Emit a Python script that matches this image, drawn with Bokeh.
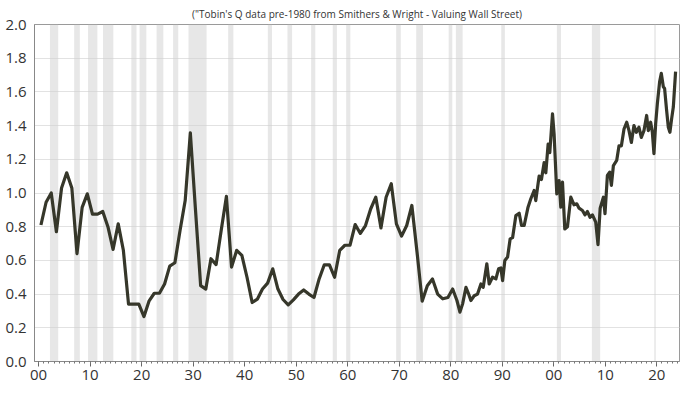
from bokeh.plotting import figure
from bokeh.models import FixedTicker, Range1d
from bokeh.embed import file_html
from bokeh.resources import INLINE

# ---- data ----
subtitle = "(\"Tobin's Q data pre-1980 from Smithers & Wright - Valuing Wall Street)"

annual_years = list(range(1900, 1980))
annual_q = [0.81, 0.945, 1.00, 0.77, 1.03, 1.12, 1.03, 0.64, 0.915, 0.995,
            0.875, 0.875, 0.89, 0.80, 0.665, 0.817, 0.66, 0.34, 0.34, 0.34,
            0.267, 0.36, 0.405, 0.405, 0.46, 0.566, 0.586, 0.777, 0.955, 1.357,
            0.90, 0.45, 0.43, 0.61, 0.575, 0.78, 0.98, 0.56, 0.66, 0.63,
            0.50, 0.35, 0.37, 0.43, 0.465, 0.55, 0.43, 0.368, 0.336, 0.366,
            0.40, 0.425, 0.40, 0.38, 0.49, 0.574, 0.574, 0.50, 0.66, 0.69,
            0.69, 0.813, 0.76, 0.807, 0.905, 0.975, 0.793, 0.975, 1.055, 0.817,
            0.744, 0.807, 0.926, 0.65, 0.358, 0.45, 0.49, 0.40, 0.372, 0.38]

quarter_years = [1980.37, 1981.2, 1981.78, 1982.3, 1982.95, 1983.47, 1983.9, 1984.55,
                 1985.2, 1985.85, 1986.3, 1987.0, 1987.46, 1988.1, 1988.76, 1989.28,
                 1989.73, 1990.06, 1990.5, 1991.03, 1991.53, 1992.0, 1992.64, 1993.28,
                 1993.74, 1994.25, 1995.0, 1995.54, 1996.18, 1996.5, 1997.15, 1997.6,
                 1998.12, 1998.45, 1998.9, 1999.22, 1999.75, 2000.06, 2000.58, 2001.03,
                 2001.36, 2001.69, 2002.13, 2002.65, 2003.3, 2003.93, 2004.46, 2004.9,
                 2005.56, 2006.06, 2006.53, 2007.03, 2007.5, 2008.14, 2008.58, 2009.0,
                 2009.63, 2009.94, 2010.4, 2010.85, 2011.18, 2011.57, 2012.21, 2012.66,
                 2013.12, 2013.63, 2014.15, 2014.6, 2015.06, 2015.56, 2016.03, 2016.53,
                 2016.99, 2017.5, 2018.02, 2018.35, 2018.8, 2019.13, 2019.44, 2019.77,
                 2020.1, 2020.54, 2020.87, 2021.26, 2021.51, 2021.9, 2022.23, 2022.54,
                 2022.87, 2023.2, 2023.64]
quarter_q = [0.43, 0.362, 0.293, 0.342, 0.44, 0.40, 0.362, 0.39,
             0.40, 0.46, 0.44, 0.58, 0.46, 0.50, 0.49, 0.55,
             0.555, 0.48, 0.60, 0.62, 0.728, 0.735, 0.866, 0.88,
             0.807, 0.807, 0.916, 0.966, 1.015, 0.955, 1.10, 1.08,
             1.18, 1.12, 1.29, 1.24, 1.47, 1.35, 0.995, 1.074,
             0.916, 1.064, 0.787, 0.80, 0.975, 0.93, 0.936, 0.91,
             0.896, 0.87, 0.89, 0.856, 0.87, 0.827, 0.694, 0.91,
             0.975, 0.877, 1.104, 1.124, 1.045, 1.163, 1.193, 1.28,
             1.28, 1.38, 1.42, 1.37, 1.30, 1.40, 1.36, 1.39,
             1.33, 1.37, 1.46, 1.37, 1.42, 1.36, 1.233, 1.41,
             1.53, 1.66, 1.71, 1.63, 1.62, 1.49, 1.39, 1.36,
             1.44, 1.51, 1.72]

recession_start = [1902.2, 1906.9, 1909.6, 1912.5, 1918.0, 1919.6, 1922.9, 1926.1,
                   1929.1, 1936.8, 1944.5, 1948.3, 1952.9, 1957.1, 1959.7, 1969.4,
                   1973.3, 1979.6, 1981.0, 1989.8, 2000.6, 2007.4, 2019.5]
recession_end = [1903.8, 1908.0, 1911.4, 1914.5, 1919.0, 1920.9, 1924.2, 1927.1,
                 1932.6, 1937.8, 1945.3, 1949.2, 1953.7, 1957.9, 1960.5, 1970.3,
                 1974.6, 1980.3, 1982.3, 1990.5, 2001.4, 2009.0, 2019.8]

x_ticks = [1900, 1910, 1920, 1930, 1940, 1950, 1960, 1970, 1980, 1990, 2000, 2010, 2020]
x_tick_labels = ["00", "10", "20", "30", "40", "50", "60", "70", "80", "90", "00", "10", "20"]
y_ticks = [0.0, 0.2, 0.4, 0.6, 0.8, 1.0, 1.2, 1.4, 1.6, 1.8, 2.0]
y_tick_labels = ["0.0", "0.2", "0.4", "0.6", "0.8", "1.0", "1.2", "1.4", "1.6", "1.8", "2.0"]

X_MIN, X_MAX = 1899.2, 2024.4
Y_MIN, Y_MAX = 0.0, 2.0

xs = [y + 0.45 for y in annual_years] + quarter_years
qs = annual_q + quarter_q

FONT = "Open Sans"
TXT = "#333333"

p = figure(width=684, height=382, output_backend="svg", toolbar_location=None,
           x_range=Range1d(X_MIN, X_MAX), y_range=Range1d(Y_MIN, Y_MAX),
           min_border_left=34, min_border_right=5, min_border_top=2, min_border_bottom=0)

p.title.text = subtitle
p.title.text_font = FONT
p.title.text_font_size = "10px"
p.title.text_font_style = "normal"
p.title.text_color = TXT
p.title.align = "center"
p.title.standoff = 8

p.quad(left=recession_start, right=recession_end, bottom=Y_MIN, top=Y_MAX,
       fill_color="#cfcfcf", fill_alpha=0.5, line_color=None)

p.line(xs, qs, line_color="#36372a", line_width=3.2, line_join="round")

p.xgrid.grid_line_color = None
p.ygrid.grid_line_color = "#e2e2e2"
p.ygrid.grid_line_width = 1

p.outline_line_color = "#9a9a9a"
p.outline_line_width = 1

p.xaxis.ticker = FixedTicker(ticks=x_ticks, minor_ticks=list(range(1900, 2025)))
p.xaxis.major_label_overrides = {t: l for t, l in zip(x_ticks, x_tick_labels)}
p.yaxis.ticker = FixedTicker(ticks=y_ticks)
p.yaxis.major_label_overrides = {t: l for t, l in zip(y_ticks, y_tick_labels)}

for ax in (p.xaxis, p.yaxis):
    ax.axis_line_color = "#888888"
    ax.major_label_text_font = FONT
    ax.major_label_text_font_size = "15px"
    ax.major_label_text_color = TXT
    ax.major_tick_line_color = "#666666"
    ax.minor_tick_line_color = "#777777"

p.xaxis.major_tick_out = 5
p.xaxis.major_tick_in = 0
p.xaxis.minor_tick_out = 2
p.xaxis.minor_tick_in = 0
p.xaxis.major_label_standoff = 3

p.yaxis.major_tick_out = 0
p.yaxis.major_tick_in = 0
p.yaxis.minor_tick_line_color = None
p.yaxis.major_label_standoff = 8

open("out.html", "w").write(file_html(p, INLINE))
